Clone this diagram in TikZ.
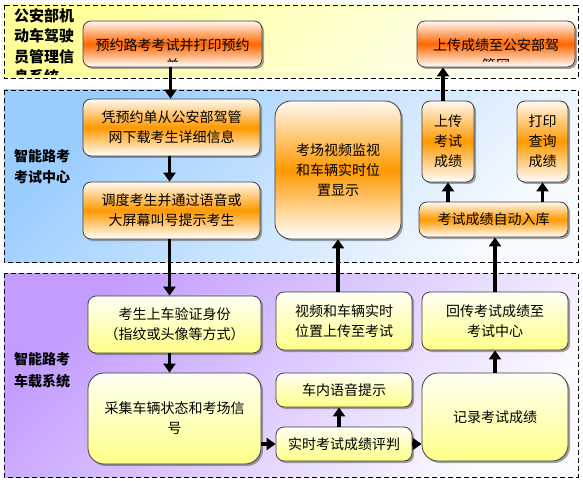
\documentclass[tikz,border=0pt]{standalone}
\usepackage{fontspec}
\setmainfont{Noto Sans CJK SC}
\usetikzlibrary{arrows.meta,shadows}
\definecolor{darkorange}{HTML}{FF6600}
\definecolor{midorange}{HTML}{FF9900}
\definecolor{midyellow}{HTML}{FFFF88}
\definecolor{bandyellow}{HTML}{FFFF99}
\definecolor{bandblue}{HTML}{99CCFF}
\definecolor{bandpurple}{HTML}{C29CFF}
\tikzset{
  proctext/.style={inner sep=0pt, align=center, font=\fontsize{14}{20}\selectfont},
  proc/.style={proctext, draw=black!75, line width=0.8pt, rounded corners=8pt,
    drop shadow={shadow xshift=2pt, shadow yshift=-2pt, fill=black!60, opacity=0.6}},
  darkbox/.style={proc, top color=darkorange!5, bottom color=white, middle color=darkorange},
  orangebox/.style={proc, top color=midorange!5, bottom color=white, middle color=midorange},
  yellowbox/.style={proc, top color=yellow!4, bottom color=midyellow},
  band/.style={draw, dash pattern=on 5pt off 3pt, line width=0.8pt},
  bandlabel/.style={font=\fontsize{14}{21}\selectfont\bfseries, align=left, inner sep=0pt},
  flow/.style={line width=3.5pt, -{Triangle[length=9pt,width=12pt]}}
}
\begin{document}
\begin{tikzpicture}[x=1pt,y=-1pt]
    \useasboundingbox (0,0) rectangle (583,481);
    % layers
    \shade[top color=bandyellow, bottom color=yellow!5, shading angle=45] (4,5) rectangle (578,78);
    \draw[band] (4,5) rectangle (578,78);
    \shade[top color=bandblue, bottom color=bandblue!8, shading angle=45] (4,90) rectangle (578,262);
    \draw[band] (4,90) rectangle (578,262);
    \shade[top color=bandpurple, bottom color=bandpurple!5, shading angle=45] (4,273) rectangle (578,477);
    \draw[band] (4,273) rectangle (578,477);

    \begin{scope}
        \clip (4,5) rectangle (578,75);
        \node[bandlabel, font=\fontsize{15}{20.5}\selectfont\bfseries, anchor=north west] (gonganlabel) at (14,8) {公安部机\\动车驾驶\\员管理信\\息系统};
    \end{scope}
    \node[bandlabel] (zhongxinlabel) at (42,167) {智能路考\\考试中心};
    \node[bandlabel, font=\fontsize{14}{22}\selectfont\bfseries] (chezailabel) at (42,370) {智能路考\\车载系统};

    % top layer
    \node[darkbox, minimum width=179, minimum height=46] (yuyue) at (172.5,44) {};
    \node[darkbox, minimum width=158, minimum height=46] (shangchuan) at (496,44) {};
    \begin{scope}
        \clip (83,21) rectangle (262,62);
        \node[proctext] (yuyuetext) at (172.5,55) {预约路考考试并打印预约\\单};
    \end{scope}
    \begin{scope}
        \clip (417,21) rectangle (575,62);
        \node[proctext] (shangchuantext) at (496,55) {上传成绩至公安部驾\\管网};
    \end{scope}

    % centre layer
    \node[orangebox, minimum width=177, minimum height=57] (pingyue) at (171.5,127.5) {凭预约单从公安部驾管\\网下载考生详细信息};
    \node[orangebox, minimum width=177, minimum height=57] (tiaodu) at (171.5,210.5) {调度考生并通过语音或\\大屏幕叫号提示考生};
    \node[orangebox, rounded corners=16pt, minimum width=126, minimum height=138] (jiankong) at (338,170) {考场视频监视\\和车辆实时位\\置显示};
    \node[orangebox, minimum width=52, minimum height=81] (chuan) at (448,141.5) {上传\\考试\\成绩};
    \node[orangebox, minimum width=51, minimum height=81] (dayin) at (542.5,141.5) {打印\\查询\\成绩};
    \node[orangebox, minimum width=149, minimum height=35] (ruku) at (493.5,219.5) {考试成绩自动入库};

    % vehicle layer
    \node[yellowbox, minimum width=173, minimum height=57] (shangche) at (174.5,324.5) {考生上车验证身份\\（指纹或头像等方式）};
    \node[yellowbox, rounded corners=16pt, minimum width=173, minimum height=91] (caiji) at (174.5,418.5) {采集车辆状态和考场信\\号};
    \node[yellowbox, minimum width=136, minimum height=58] (shipin) at (344,321) {视频和车辆实时\\位置上传至考试};
    \node[yellowbox, minimum width=136, minimum height=34] (yuyin) at (344,390) {车内语音提示};
    \node[yellowbox, minimum width=136, minimum height=34] (pingpan) at (344,444) {实时考试成绩评判};
    \node[yellowbox, minimum width=146, minimum height=58] (huichuan) at (495,321) {回传考试成绩至\\考试中心};
    \node[yellowbox, rounded corners=16pt, minimum width=146, minimum height=88] (jilu) at (495,417) {记录考试成绩};

    % arrows
    \draw[flow] ([xshift=-2pt]yuyue.south) -- ([xshift=-2pt]yuyue.south |- pingyue.north);
    \draw[flow] ([xshift=-2pt]pingyue.south) -- ([xshift=-2pt]tiaodu.north);
    \draw[flow] ([xshift=-2pt]tiaodu.south) -- ([xshift=-2pt]tiaodu.south |- shangche.north);
    \draw[flow] ([xshift=-2pt]tiaodu.south |- shangche.south) -- ([xshift=-2pt]tiaodu.south |- caiji.north);
    \draw[flow] (pingpan.west -| caiji.east) -- (pingpan.west);
    \draw[flow] (pingpan.east) -- (pingpan.east -| jilu.west);
    \draw[flow] ([xshift=-5pt]pingpan.north) -- ([xshift=-5pt]yuyin.south);
    \draw[flow] (jiankong.south |- shipin.north) -- (jiankong.south);
    \draw[flow] (jilu.north) -- (huichuan.south);
    \draw[flow] (huichuan.north) -- (huichuan.north |- ruku.south);
    \draw[flow] (ruku.north -| chuan) -- (chuan.south);
    \draw[flow] (ruku.north -| dayin) -- (dayin.south);
    \draw[flow] ([xshift=-5pt]chuan.north) -- ([xshift=-5pt]chuan.north |- shangchuan.south);
\end{tikzpicture}
\end{document}
